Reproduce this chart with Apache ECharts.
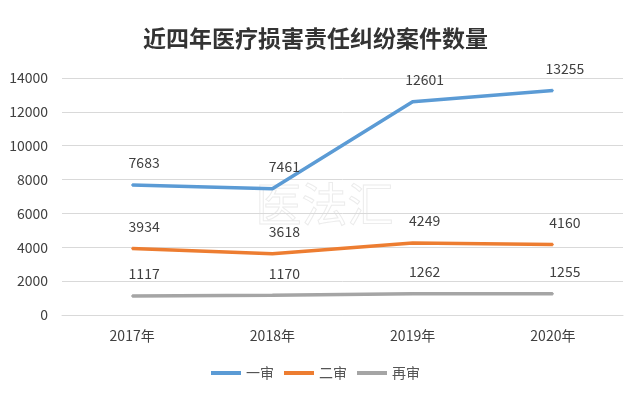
<!DOCTYPE html>
<html><head><meta charset="utf-8">
<script src="https://cdn.jsdelivr.net/npm/echarts@6/dist/echarts.min.js"></script>
<style>html,body{margin:0;padding:0;background:#fff}#c{width:631px;height:393px}</style>
</head><body><div id="c"></div>
<script>
const categories = ['2017年','2018年','2019年','2020年'];
const firstTrial = [7683, 7461, 12601, 13255];
const secondTrial = [3934, 3618, 4249, 4160];
const retrial = [1117, 1170, 1262, 1255];
const yTicks = [0, 2000, 4000, 6000, 8000, 10000, 12000, 14000];

const chart = echarts.init(document.getElementById('c'));
const font = '"Microsoft YaHei","Noto Sans CJK SC","DejaVu Sans",sans-serif';
function mk(name, data, color){
  return {name, type:'line', data, symbol:'circle', symbolSize:2, showSymbol:true, smooth:false,
    lineStyle:{color, width:3.5}, itemStyle:{color, borderWidth:0},
    label:{show:true, position:'top', distance:14, offset:[12,0], color:'#404040', fontSize:14, fontFamily:font}};
}
chart.setOption({
  animation:false,
  backgroundColor:'#fff',
  title:{text:'近四年医疗损害责任纠纷案件数量', left:'center', top:22,
    textStyle:{fontSize:23, fontWeight:'bold', color:'#333', fontFamily:font}},
  grid:{left:62, right:8, top:78, bottom:78},
  legend:{bottom:8, left:'center', itemWidth:30, itemHeight:4, itemGap:10, icon:'rect',
    textStyle:{fontSize:14, color:'#555', fontFamily:font}},
  xAxis:{type:'category', data:categories, boundaryGap:true,
    axisLine:{show:true, lineStyle:{color:'#d9d9d9'}}, axisTick:{show:false},
    axisLabel:{color:'#404040', fontSize:14, margin:14, fontFamily:font}},
  yAxis:{type:'value', min:yTicks[0], max:yTicks[yTicks.length-1], interval:2000,
    axisLine:{show:false}, axisTick:{show:false},
    axisLabel:{color:'#404040', fontSize:14, margin:14, fontFamily:font, formatter:v=>String(v)},
    splitLine:{lineStyle:{color:'#d9d9d9'}}},
  graphic:[{type:'text', left:255, top:180, z:0, silent:true,
    style:{text:'医法汇', font:'46px '+font, fill:'rgba(255,255,255,0)', stroke:'#ececec', lineWidth:1}}],
  series:[mk('一审', firstTrial, '#5b9bd5'), mk('二审', secondTrial, '#ed7d31'), mk('再审', retrial, '#a5a5a5')]
});
</script></body></html>
